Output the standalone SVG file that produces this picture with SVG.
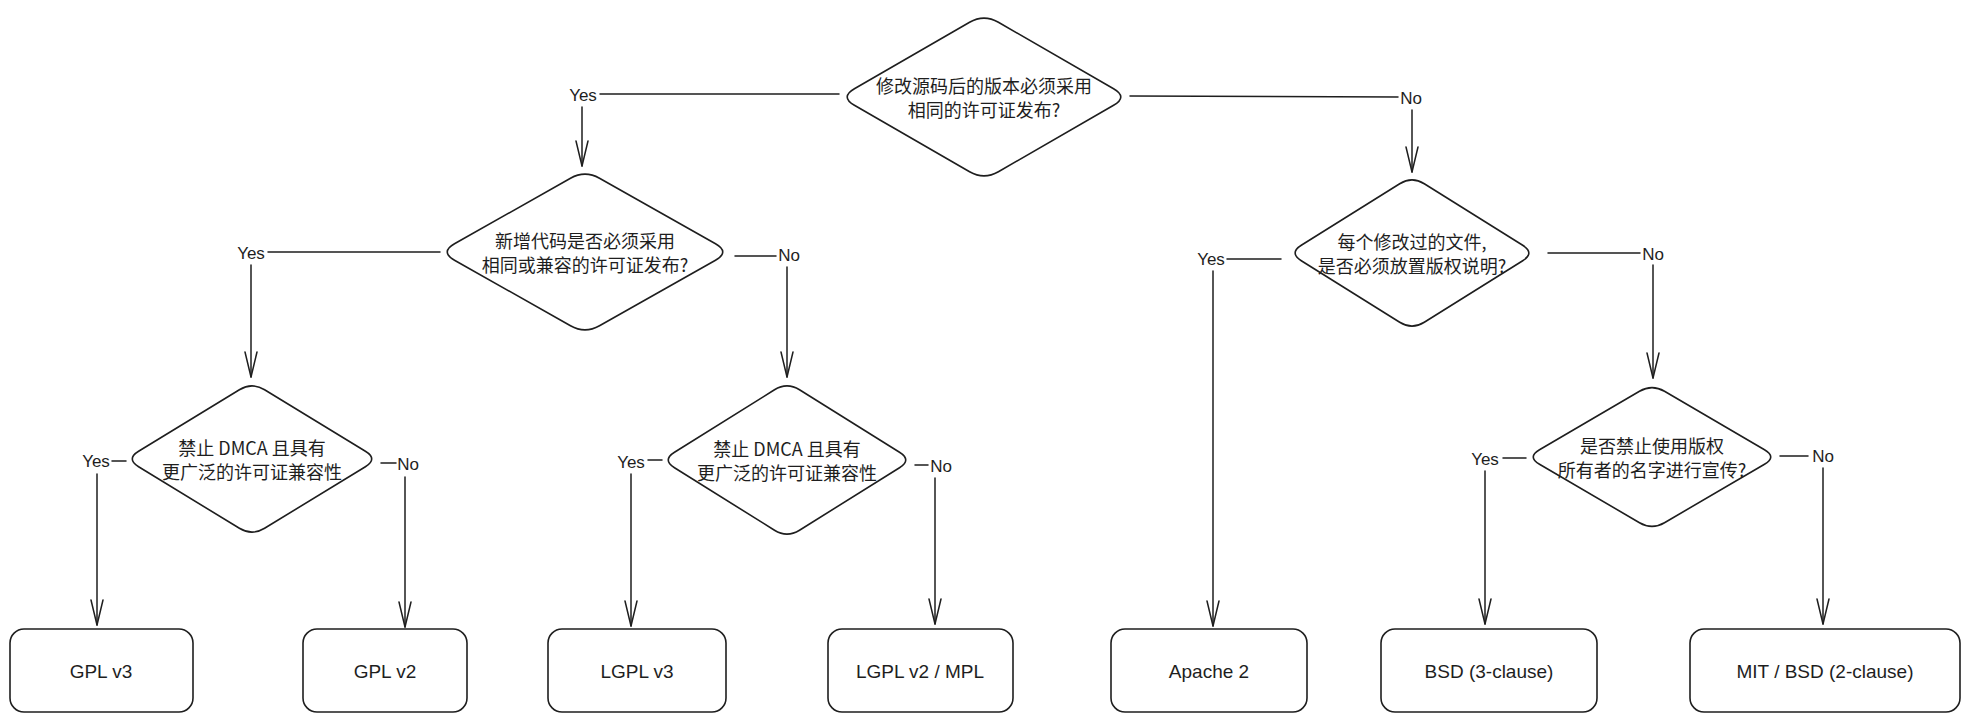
<svg xmlns="http://www.w3.org/2000/svg" width="1970" height="723" viewBox="0 0 1970 723">
<defs>
<style>
.shape{fill:#ffffff;stroke:#1e1e1e;stroke-width:1.6;stroke-linejoin:round}
.conn{fill:none;stroke:#1e1e1e;stroke-width:1.5;stroke-linecap:round}
.q{font-family:"Noto Sans CJK SC","Noto Sans",sans-serif;font-size:18px;fill:#1e1e1e;text-anchor:middle;dominant-baseline:central}
.lbl{font-family:"Liberation Sans","DejaVu Sans",sans-serif;font-size:17px;fill:#1e1e1e;text-anchor:middle;dominant-baseline:central}
.box{font-family:"Liberation Sans","DejaVu Sans",sans-serif;font-size:19px;fill:#1e1e1e;text-anchor:middle;dominant-baseline:central}
</style>
<marker id="ah" viewBox="-26 -8 28 16" refX="0" refY="0" markerWidth="28" markerHeight="16" markerUnits="userSpaceOnUse" orient="auto">
<path d="M -25 -6 L 0 0 L -25 6" fill="none" stroke="#1e1e1e" stroke-width="1.5" stroke-linecap="round" stroke-linejoin="round"/>
</marker>
</defs>
<rect width="1970" height="723" fill="#ffffff"/>

<g id="connectors">
<line class="conn" x1="839" y1="94" x2="600" y2="94"/>
<line class="conn" x1="582" y1="107" x2="582" y2="166" marker-end="url(#ah)"/>
<line class="conn" x1="1130" y1="96" x2="1398" y2="97"/>
<line class="conn" x1="1412" y1="110" x2="1412" y2="172" marker-end="url(#ah)"/>
<line class="conn" x1="440" y1="252" x2="268" y2="252"/>
<line class="conn" x1="251" y1="265" x2="251" y2="377" marker-end="url(#ah)"/>
<line class="conn" x1="735" y1="256" x2="776" y2="256"/>
<line class="conn" x1="787" y1="267" x2="787" y2="377" marker-end="url(#ah)"/>
<line class="conn" x1="1281" y1="259" x2="1227" y2="259"/>
<line class="conn" x1="1213" y1="271" x2="1213" y2="626" marker-end="url(#ah)"/>
<line class="conn" x1="1548" y1="253" x2="1640" y2="253"/>
<line class="conn" x1="1653" y1="265" x2="1653" y2="378" marker-end="url(#ah)"/>
<line class="conn" x1="126" y1="461" x2="112" y2="461"/>
<line class="conn" x1="97" y1="474" x2="97" y2="625" marker-end="url(#ah)"/>
<line class="conn" x1="381" y1="463" x2="396" y2="463"/>
<line class="conn" x1="405" y1="477" x2="405" y2="627" marker-end="url(#ah)"/>
<line class="conn" x1="662" y1="460" x2="648" y2="460"/>
<line class="conn" x1="631" y1="474" x2="631" y2="626" marker-end="url(#ah)"/>
<line class="conn" x1="915" y1="465" x2="928" y2="465"/>
<line class="conn" x1="935" y1="478" x2="935" y2="624" marker-end="url(#ah)"/>
<line class="conn" x1="1526" y1="458" x2="1503" y2="458"/>
<line class="conn" x1="1485" y1="471" x2="1485" y2="624" marker-end="url(#ah)"/>
<line class="conn" x1="1780" y1="456" x2="1808" y2="456"/>
<line class="conn" x1="1823" y1="468" x2="1823" y2="624" marker-end="url(#ah)"/>
<text class="lbl" x="583" y="95">Yes</text>
<text class="lbl" x="1411" y="98">No</text>
<text class="lbl" x="251" y="253">Yes</text>
<text class="lbl" x="789" y="255">No</text>
<text class="lbl" x="1211" y="259">Yes</text>
<text class="lbl" x="1653" y="254">No</text>
<text class="lbl" x="96" y="461">Yes</text>
<text class="lbl" x="408" y="464">No</text>
<text class="lbl" x="631" y="462">Yes</text>
<text class="lbl" x="941" y="466">No</text>
<text class="lbl" x="1485" y="459">Yes</text>
<text class="lbl" x="1823" y="456">No</text>
</g>

<g id="q-modified-same-license" transform="translate(984,97)">
<path class="shape" d="M -14.4 -74.7 Q 0 -83 14.4 -74.7 L 129.6 -8.3 Q 144 0 129.6 8.3 L 14.4 74.7 Q 0 83 -14.4 74.7 L -129.6 8.3 Q -144 0 -129.6 -8.3 Z"/>
<text class="q" x="0" y="-12">修改源码后的版本必须采用</text>
<text class="q" x="0" y="12">相同的许可证发布?</text>
</g>

<g id="q-new-code-same-license" transform="translate(585,252)">
<path class="shape" d="M -14.5 -73.8 Q 0 -82 14.5 -73.8 L 130.5 -8.2 Q 145 0 130.5 8.2 L 14.5 73.8 Q 0 82 -14.5 73.8 L -130.5 8.2 Q -145 0 -130.5 -8.2 Z"/>
<text class="q" x="0" y="-12">新增代码是否必须采用</text>
<text class="q" x="0" y="12">相同或兼容的许可证发布?</text>
</g>

<g id="q-copyright-notice" transform="translate(1412,253)">
<path class="shape" d="M -12.3 -69.3 Q 0 -77 12.3 -69.3 L 110.7 -7.7 Q 123 0 110.7 7.7 L 12.3 69.3 Q 0 77 -12.3 69.3 L -110.7 7.7 Q -123 0 -110.7 -7.7 Z"/>
<text class="q" x="0" y="-12">每个修改过的文件,</text>
<text class="q" x="0" y="12">是否必须放置版权说明?</text>
</g>

<g id="q-dmca-gpl" transform="translate(252,459)">
<path class="shape" d="M -12.6 -69.3 Q 0 -77 12.6 -69.3 L 113.4 -7.7 Q 126 0 113.4 7.7 L 12.6 69.3 Q 0 77 -12.6 69.3 L -113.4 7.7 Q -126 0 -113.4 -7.7 Z"/>
<text class="q" x="0" y="-12">禁止 DMCA 且具有</text>
<text class="q" x="0" y="12">更广泛的许可证兼容性</text>
</g>

<g id="q-dmca-lgpl" transform="translate(787,460)">
<path class="shape" d="M -12.5 -70.2 Q 0 -78 12.5 -70.2 L 112.5 -7.8 Q 125 0 112.5 7.8 L 12.5 70.2 Q 0 78 -12.5 70.2 L -112.5 7.8 Q -125 0 -112.5 -7.8 Z"/>
<text class="q" x="0" y="-12">禁止 DMCA 且具有</text>
<text class="q" x="0" y="12">更广泛的许可证兼容性</text>
</g>

<g id="q-owner-name" transform="translate(1652,457)">
<path class="shape" d="M -12.5 -65.7 Q 0 -73 12.5 -65.7 L 112.5 -7.3 Q 125 0 112.5 7.3 L 12.5 65.7 Q 0 73 -12.5 65.7 L -112.5 7.3 Q -125 0 -112.5 -7.3 Z"/>
<text class="q" x="0" y="-12">是否禁止使用版权</text>
<text class="q" x="0" y="12">所有者的名字进行宣传?</text>
</g>

<g id="gpl-v3"><rect class="shape" x="10" y="629" width="183" height="83" rx="14"/><text class="box" x="101" y="671">GPL v3</text></g>
<g id="gpl-v2"><rect class="shape" x="303" y="629" width="164" height="83" rx="14"/><text class="box" x="385" y="671">GPL v2</text></g>
<g id="lgpl-v3"><rect class="shape" x="548" y="629" width="178" height="83" rx="14"/><text class="box" x="637" y="671">LGPL v3</text></g>
<g id="lgpl-v2-mpl"><rect class="shape" x="828" y="629" width="185" height="83" rx="14"/><text class="box" x="920" y="671">LGPL v2 / MPL</text></g>
<g id="apache-2"><rect class="shape" x="1111" y="629" width="196" height="83" rx="14"/><text class="box" x="1209" y="671">Apache 2</text></g>
<g id="bsd-3"><rect class="shape" x="1381" y="629" width="216" height="83" rx="14"/><text class="box" x="1489" y="671">BSD (3-clause)</text></g>
<g id="mit-bsd-2"><rect class="shape" x="1690" y="629" width="270" height="83" rx="14"/><text class="box" x="1825" y="671">MIT / BSD (2-clause)</text></g>
</svg>
